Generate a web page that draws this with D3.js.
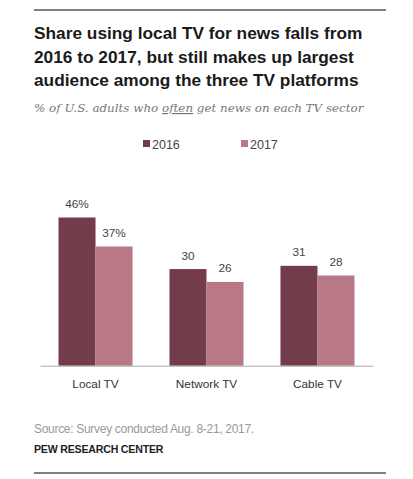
<!DOCTYPE html>
<html><head><meta charset="utf-8">
<script src="https://cdn.jsdelivr.net/npm/d3@7"></script>
<style>body{margin:0;background:#fff;} svg{display:block;}</style>
</head><body>
<script>
const categories = ["Local TV", "Network TV", "Cable TV"];
const years = ["2016", "2017"];
const values2016 = [46, 30, 31];
const values2017 = [37, 26, 28];
const valueLabels2016 = ["46%", "30", "31"];
const valueLabels2017 = ["37%", "26", "28"];
const colors = ["#733c4a", "#b87885"];

const W = 413, H = 479;
const svg = d3.select("body").append("svg").attr("width", W).attr("height", H);

svg.append("line").attr("x1", 34).attr("x2", 386).attr("y1", 10).attr("y2", 10).attr("stroke", "#555").attr("stroke-width", 1.5);
svg.append("line").attr("x1", 34).attr("x2", 386).attr("y1", 473).attr("y2", 473).attr("stroke", "#555").attr("stroke-width", 1.5);

const titleLines = ["Share using local TV for news falls from", "2016 to 2017, but still makes up largest", "audience among the three TV platforms"];
svg.append("g").selectAll("text").data(titleLines).join("text")
  .attr("x", 34).attr("y", (d, i) => 39 + i * 23.5)
  .attr("font-family", "Liberation Sans, Arial, sans-serif").attr("font-weight", "bold")
  .attr("font-size", 17.3).attr("fill", "#1a1a1a").text(d => d);

const sub = svg.append("text").attr("x", 34).attr("y", 112)
  .attr("font-family", "DejaVu Serif, Georgia, serif").attr("font-style", "italic")
  .attr("font-size", 11.9).attr("fill", "#777");
sub.append("tspan").text("% of U.S. adults who ");
sub.append("tspan").attr("text-decoration", "underline").text("often");
sub.append("tspan").text(" get news on each TV sector");

// legend
const legendX = [143, 241];
const lg = svg.append("g").selectAll("g").data(years).join("g")
  .attr("transform", (d, i) => `translate(${legendX[i]},0)`);
lg.append("rect").attr("x", 0).attr("y", 140).attr("width", 7).attr("height", 7).attr("fill", (d, i) => colors[i]);
lg.append("text").attr("x", 9).attr("y", 148.5).attr("font-family", "Liberation Sans, Arial, sans-serif")
  .attr("font-size", 12.5).attr("fill", "#444").text(d => d);

// chart
const baseY = 365.7;
const x0 = d3.scaleBand().domain(categories).range([40, 373]).paddingInner(0.333).paddingOuter(0.1667);
const x1 = d3.scaleBand().domain(years).range([0, x0.bandwidth()]);
const y = d3.scaleLinear().domain([0, 46]).range([baseY, 217.5]);

const data = categories.map((c, i) => ({cat: c, vals: [
  {year: "2016", v: values2016[i], label: valueLabels2016[i], color: colors[0]},
  {year: "2017", v: values2017[i], label: valueLabels2017[i], color: colors[1]}]}));

const groups = svg.append("g").selectAll("g").data(data).join("g")
  .attr("transform", d => `translate(${x0(d.cat)},0)`);
groups.selectAll("rect").data(d => d.vals).join("rect")
  .attr("x", d => x1(d.year)).attr("width", x1.bandwidth())
  .attr("y", d => y(d.v)).attr("height", d => baseY - y(d.v)).attr("fill", d => d.color);
groups.selectAll("text").data(d => d.vals).join("text")
  .attr("x", d => x1(d.year) + x1.bandwidth() / 2).attr("y", d => y(d.v) - 9.5)
  .attr("text-anchor", "middle").attr("font-family", "Liberation Sans, Arial, sans-serif")
  .attr("font-size", 11.8).attr("fill", "#444").text(d => d.label);

const xAxis = svg.append("g").attr("transform", `translate(0,${baseY})`)
  .call(d3.axisBottom(x0).tickSize(0).tickPadding(14));
xAxis.select(".domain").attr("stroke", "#aaa").attr("stroke-width", 1);
xAxis.selectAll("text").attr("font-family", "Liberation Sans, Arial, sans-serif").attr("font-size", 11.8).attr("fill", "#333");

svg.append("text").attr("x", 34).attr("y", 433).attr("font-family", "Liberation Sans, Arial, sans-serif")
  .attr("font-size", 12).attr("fill", "#999").attr("letter-spacing", -0.3).text("Source: Survey conducted Aug. 8-21, 2017.");
svg.append("text").attr("x", 34).attr("y", 453).attr("font-family", "Liberation Sans, Arial, sans-serif")
  .attr("font-weight", "bold").attr("font-size", 10.6).attr("fill", "#222").attr("letter-spacing", -0.2).text("PEW RESEARCH CENTER");
</script>
</body></html>
